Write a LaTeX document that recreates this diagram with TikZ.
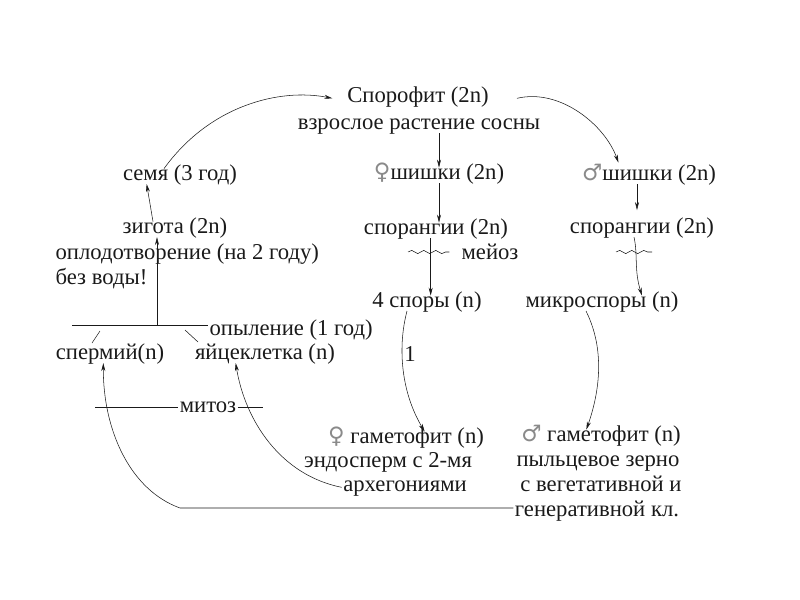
\documentclass[tikz,border=0pt]{standalone}
\usepackage{fontspec}
\setmainfont{Liberation Serif}
\newfontfamily\symfont{DejaVu Sans}
\usetikzlibrary{arrows.meta,decorations.pathmorphing}
\definecolor{ink}{HTML}{1A1A1A}
\definecolor{symgray}{HTML}{8A8A8A}
\newcommand{\fem}{{\symfont\color{symgray}\char"2640}}
\newcommand{\mal}{{\symfont\color{symgray}\char"2642}}

\begin{document}
\begin{tikzpicture}[x=0.75pt,y=-0.75pt,
  txt/.style={inner sep=1pt,text=ink,text height=1.6ex,text depth=0.4ex,yshift=-2.5pt,font=\fontsize{17}{20}\selectfont},
  arr/.style={ink,thin,-{Stealth[length=6pt,width=3pt]}},
  ln/.style={ink,thin},
  wave/.style={ink,thin,decorate,decoration={snake,amplitude=1.2pt,segment length=9pt}}]
  \useasboundingbox (0,0) rectangle (800,600);
  % sporophyte
  \node[txt] (spor) at (418,95) {Спорофит (2n)};
  \node[txt] (adult) at (419,122) {взрослое растение сосны};
  % female line
  \node[txt] (fcone) at (439,172) {\fem шишки (2n)};
  \node[txt] (fspg) at (436,227) {спорангии (2n)};
  \node[txt] (meio) at (490,252) {мейоз};
  \node[txt] (fspore) at (427,300) {4 споры (n)};
  \node[txt] (one) at (410,354) {1};
  \node[txt] (fgam) at (406,436) {\fem\ гаметофит (n)};
  \node[txt] (endo) at (388,460) {эндосперм с 2-мя};
  \node[txt] (arch) at (405,484) {архегониями};
  % male line
  \node[txt] (mcone) at (649,173) {\mal шишки (2n)};
  \node[txt] (mspg) at (642,226) {спорангии (2n)};
  \node[txt] (mspore) at (602,300) {микроспоры (n)};
  \node[txt] (mgam) at (601,434) {\mal\ гаметофит (n)};
  \node[txt] (pollen) at (598,459) {пыльцевое зерно};
  \node[txt] (veg) at (601,484) {с вегетативной и};
  \node[txt] (gen) at (597,509) {генеративной кл.};
  % left side
  \node[txt] (seed) at (180,173) {семя (3 год)};
  \node[txt] (zyg) at (175,226) {зигота (2n)};
  \node[txt,anchor=west] (fert) at (54,252) {оплодотворение (на 2 году)};
  \node[txt,anchor=west] (nowat) at (54,277) {без воды!};
  \node[txt,anchor=west] (poll) at (208,328) {опыление (1 год)};
  \node[txt] (sperm) at (110,352) {спермий(n)};
  \node[txt] (egg) at (265,352) {яйцеклетка (n)};
  \node[txt] (mitos) at (208,405) {митоз};
  \coordinate (fl) at (72,325);
  \coordinate (fm) at (157,325);
  \coordinate (ml) at (95,407);
  \coordinate (mr) at (263,407);
  \coordinate (low) at (180,508);

  % connectors
  \draw[arr] ([xshift=-12]seed.north) .. controls (210,105) and (280,88) .. ([xshift=-10]spor.west);
  \draw[arr] ([xshift=20]spor.east) .. controls (560,88) and (605,125) .. ([shift={(38,-6)}]mcone.north west);
  \draw[arr] (adult.south -| fcone) -- (fcone.north);
  \draw[arr] (fcone.south) -- (fcone.south |- fspg.north);
  \draw[arr] ([xshift=-4]fspg.south) -- ([xshift=-4]fspg.south |- fspore.north);
  \draw[wave] (408,252) -- ([xshift=-8]meio.west |- 0,252);
  \draw[arr] (mcone.south) ++(-12,0) -- ++(0,26);
  \draw[arr] ([xshift=-6]mspg.south) .. controls (638,255) and (634,270) .. ([xshift=30]mspore.north);
  \draw[wave] (616,252) -- (652,252);
  \draw[arr] ([xshift=-15]fspore.south) .. controls (398,345) and (400,390) .. ([xshift=14]fgam.north);
  \draw[arr] ([xshift=-12]mspore.south) .. controls (603,345) and (602,385) .. ([xshift=-11]mgam.north);
  \draw[arr] (zyg.north -| fm) ++(-4,0) -- ([xshift=-25]seed.south);
  \draw[ln] (fl) -- (fl -| poll.west);
  \draw[arr] (fm) -- (fm |- zyg.south);
  \draw[ln] (100,331) -- (92,343);
  \draw[ln] (185,330) -- (198,342);
  \draw[ln] (ml) -- (ml -| mitos.west);
  \draw[ln] (mr -| mitos.east) -- (mr);
  \draw[arr] (low -| gen.west) -- (low) .. controls (130,490) and (103,430) .. ([xshift=-5]sperm.south);
  \draw[arr] (arch.west) .. controls (280,475) and (245,420) .. ([xshift=-22]egg.south);
\end{tikzpicture}
\end{document}
